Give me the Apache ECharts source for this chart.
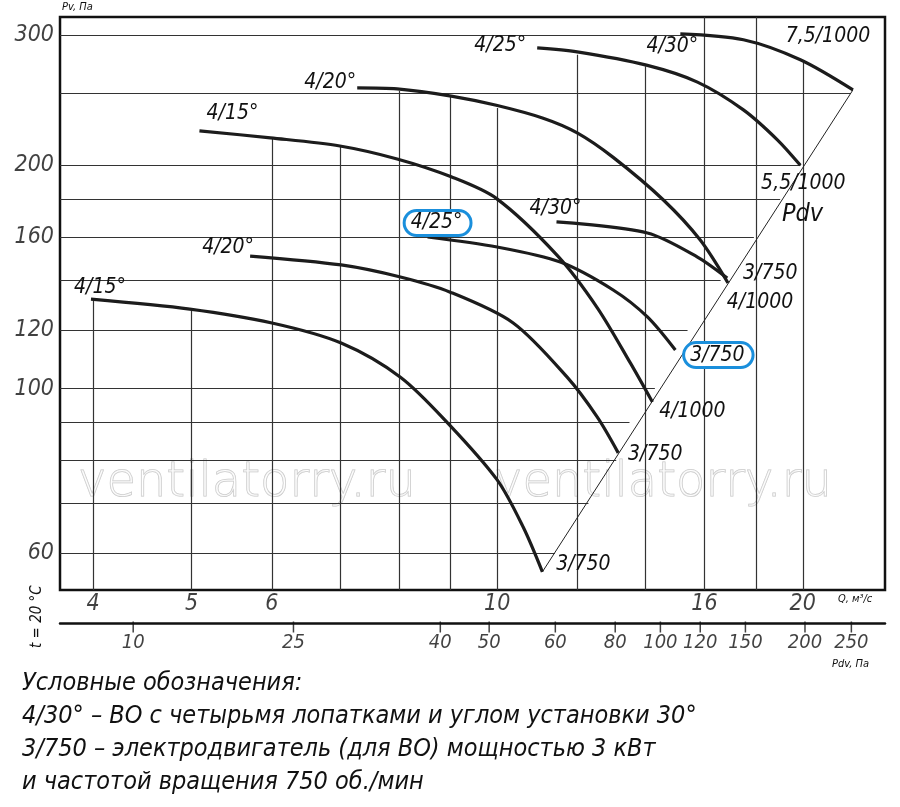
<!DOCTYPE html>
<html>
<head>
<meta charset="utf-8">
<script src="https://cdn.jsdelivr.net/npm/echarts@6/dist/echarts.min.js"></script>
<style>
html,body{margin:0;padding:0;background:#fff;}
#main{width:900px;height:807px;}
</style>
</head>
<body>
<div id="main"></div>
<script>
// Q, м3/с vs Pv, Па (log-log)
var qMin = 3.71, qMax = 24.1, pMin = 53.5, pMax = 317;

var curves = [
  {name: 'low415', angle: '4/15°', motor: '3/750', a: [9, -12], m: [41, -7],
   data: [[3.98,132.0],[4.98,128.0],[6.0,122.6],[7.02,115.2],[8.03,103.6],[8.95,89.7],[10.0,75.3],[10.61,65.0],[11.08,56.6]]},
  {name: 'low420', angle: '4/20°', motor: '3/750', a: [-22, -9], m: [37, 2],
   data: [[5.71,150.9],[7.02,146.8],[8.03,141.4],[8.99,134.9],[10.37,122.6],[11.72,103.6],[12.55,91.5],[13.16,81.9]]},
  {name: 'low425', angle: '4/25°', motor: '3/750', a: [10, -14], m: [43, 5], boxed: true,
   data: [[8.54,160.1],[10.0,155.2],[11.54,148.1],[13.01,135.8],[14.06,124.9],[14.98,112.7]]},
  {name: 'mid430', angle: '4/30°', motor: '3/750', a: [-1, -13], m: [43, -5],
   data: [[11.44,167.8],[14.06,162.1],[15.75,150.4],[16.85,140.9]]},
  {name: 'up415', angle: '4/15°', motor: '4/1000', a: [33, -17], m: [40, 10],
   data: [[5.09,222.6],[5.98,217.8],[7.0,212.4],[7.97,204.0],[9.01,193.0],[9.98,180.5],[11.47,151.0],[12.55,128.5],[13.53,108.2],[14.22,95.9]]},
  {name: 'up420', angle: '4/20°', motor: '4/1000', a: [-27, -5], m: [32, 20],
   data: [[7.28,254.4],[7.97,253.6],[9.01,248.0],[9.98,241.0],[11.10,231.5],[11.99,221.2],[13.01,205.0],[14.58,179.6],[15.85,158.6],[16.88,138.8]]},
  {name: 'up425', angle: '4/25°', motor: '5,5/1000', a: [-37, -2], m: [3, 18],
   data: [[10.95,288.1],[11.99,284.5],[14.03,273.0],[15.75,259.0],[17.48,237.6],[18.88,216.5],[19.89,200]]},
  {name: 'up430', angle: '4/30°', motor: '7,5/1000', a: [-8, 13], m: [-25, -53],
   data: [[15.15,300.9],[17.48,295.4],[19.89,277.6],[22.41,252.8]]}
];

var pdvLine = [[11.08,56.6],[22.41,252.8]];

// grid lines clipped under the curves: [Q, top Pv] and [Pv, right Q]
var vGrid = [[4,132],[5,128],[6,218],[7,212],[8,252],[9,248],[10,239],[12,282],[14,272],[16,317],[18,317],[20,277]];
var hGrid = [[300,15.3],[250,22.3],[200,19.9],[180,19.0],[160,17.9],[140,16.6],[120,15.4],[100,14.3],[90,13.5],[80,13.1],[70,12.3],[60,11.4]];

var qTicks = [4, 5, 6, 10, 16, 20];
var pvTicks = [300, 200, 160, 120, 100, 60];
var pdvLabels = ['10','25','40','50','60','80','100','120','150','200','250'];
var pdvQ = [4.38, 6.30, 8.79, 9.82, 11.41, 13.07, 14.48, 15.85, 17.56, 20.1, 22.33];

var FONT = "'DejaVu Sans Condensed', 'Liberation Sans Narrow', sans-serif";
var BLUE = '#1a8fdc';

function lbl(text, off, boxed) {
  var l = {show: true, position: 'inside', offset: off, formatter: text,
    fontFamily: FONT, fontStyle: 'italic', fontSize: 21, color: '#111'};
  if (boxed) {
    l.borderColor = BLUE; l.borderWidth = 3; l.borderRadius = 11;
    l.padding = [1, 7, 0, 5]; l.backgroundColor = '#fff';
  }
  return l;
}

var series = [];
series.push({
  type: 'lines', coordinateSystem: 'cartesian2d', silent: true, z: 1,
  lineStyle: {color: '#333', width: 1.2, opacity: 1},
  data: vGrid.map(function (v) { return {coords: [[v[0], v[1]], [v[0], pMin]]}; })
    .concat(hGrid.map(function (h) { return {coords: [[qMin, h[0]], [h[1], h[0]]]}; }))
});
series.push({
  type: 'line', data: pdvLine, symbol: 'none', z: 2,
  lineStyle: {color: '#222', width: 1}
});
curves.forEach(function (c) {
  var d = c.data.map(function (p, i) {
    var item = {value: p};
    if (i === 0) item.label = lbl(c.angle, c.a, c.boxed);
    if (i === c.data.length - 1) item.label = lbl(c.motor, c.m, c.boxed);
    return item;
  });
  series.push({
    type: 'line', name: c.name, data: d, smooth: 0.3, z: 3,
    symbol: 'circle', symbolSize: 0.1, showSymbol: true,
    lineStyle: {color: '#1c1c1c', width: 3.2},
    label: {show: false}
  });
});
// tick labels
series.push({
  type: 'scatter', symbolSize: 0.1, z: 4,
  data: pvTicks.map(function (v) { return [qMin, v]; }),
  label: {show: true, position: 'left', distance: 6, formatter: function (p) { return p.value[1]; },
    fontFamily: FONT, fontStyle: 'italic', fontSize: 23, color: '#111'}
});
series.push({
  type: 'scatter', symbolSize: 0.1, z: 4,
  data: qTicks.map(function (v) { return [v, pMin]; }),
  label: {show: true, position: 'bottom', distance: 2, formatter: function (p) { return p.value[0]; },
    fontFamily: FONT, fontStyle: 'italic', fontSize: 23, color: '#111'}
});
series.push({
  type: 'scatter', xAxisIndex: 1, yAxisIndex: 1, z: 4,
  symbol: 'rect', symbolSize: [1.5, 11], symbolOffset: [0, 3],
  itemStyle: {color: '#111'},
  data: pdvQ.map(function (q, i) { return {value: [q, 0], name: pdvLabels[i]}; }),
  label: {show: true, position: 'bottom', distance: 0, formatter: '{b}',
    fontFamily: FONT, fontStyle: 'italic', fontSize: 20, color: '#111'}
});

var wm = {fontFamily: "'DejaVu Sans'", fontWeight: 200, fontSize: 48,
  fill: 'rgba(255,255,255,0.5)', stroke: '#c4c4c4', lineWidth: 1};
function txt(x, y, s, size, extra) {
  var st = {text: s, fontFamily: FONT, fontStyle: 'italic', fontSize: size, fill: '#111'};
  for (var k in extra) st[k] = extra[k];
  return {type: 'text', x: x, y: y, style: st, z: 10};
}

var myChart = echarts.init(document.getElementById('main'));
option = {
  animation: false,
  grid: [
    {left: 60, top: 17, width: 825, height: 573, show: true, borderColor: '#111', borderWidth: 2.5, backgroundColor: 'transparent'},
    {left: 60, top: 623, width: 825, height: 1}
  ],
  xAxis: [
    {type: 'log', min: qMin, max: qMax, gridIndex: 0, axisLine: {show: false}, axisTick: {show: false}, axisLabel: {show: false}, splitLine: {show: false}, minorSplitLine: {show: false}},
    {type: 'log', min: qMin, max: qMax, gridIndex: 1, position: 'top', axisLine: {show: true, onZero: false, lineStyle: {color: '#111', width: 2.5}}, axisTick: {show: false}, axisLabel: {show: false}, splitLine: {show: false}}
  ],
  yAxis: [
    {type: 'log', min: pMin, max: pMax, gridIndex: 0, axisLine: {show: false}, axisTick: {show: false}, axisLabel: {show: false}, splitLine: {show: false}},
    {type: 'value', min: 0, max: 1, gridIndex: 1, show: false}
  ],
  series: series,
  graphic: [
    {type: 'text', x: 78, y: 460, style: Object.assign({text: 'ventilatorry.ru'}, wm), z: 0},
    {type: 'text', x: 494, y: 460, style: Object.assign({text: 'ventilatorry.ru'}, wm), z: 0},
    txt(782, 202, 'Pdv', 25),
    txt(62, 2, 'Pv, Па', 11),
    txt(838, 594, 'Q, м³/с', 11),
    txt(832, 659, 'Pdv, Па', 11),
    {type: 'text', x: 30, y: 648, rotation: Math.PI / 2, style: {text: 't = 20 °C', fontFamily: FONT, fontStyle: 'italic', fontSize: 15, fill: '#111'}},
    txt(22, 671, 'Условные обозначения:', 25),
    txt(22, 704, '4/30° – ВО с четырьмя лопатками и углом установки 30°', 25),
    txt(22, 737, '3/750 – электродвигатель (для ВО) мощностью 3 кВт', 25),
    txt(22, 770, 'и частотой вращения 750 об./мин', 25)
  ]
};
myChart.setOption(option);
</script>
</body>
</html>
